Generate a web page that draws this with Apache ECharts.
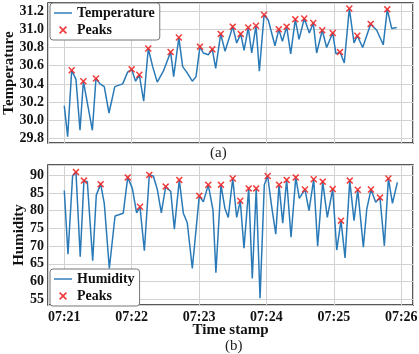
<!DOCTYPE html>
<html>
<head>
<meta charset="utf-8">
<script src="https://cdn.jsdelivr.net/npm/echarts@6/dist/echarts.min.js"></script>
</head>
<body style="margin:0; background:#fff">
<div id="main" style="width:419px;height:354px"></div>
<script>
// seconds after 07:21:00
var tempTime = [0, 3, 6.6, 10.4, 14, 17, 25, 28.2, 31.8, 35.6, 39.8, 45, 52, 56.4, 60, 63.5, 66.8, 70.7, 74.8, 78.7,
  82.8, 88.2, 94.7, 97.4, 102, 105.4, 109, 114, 117.3, 120.8, 123.8, 128.2, 131.8, 134.8, 139.3, 143.1, 150, 153.5,
  157.1, 160.1, 163.8, 166.9, 170.7, 173.7, 177.9, 181.7, 187.6, 191, 194.2, 198, 201.6, 205.7, 209, 213.7, 218.2,
  221.7, 224.7, 229.7, 233.6, 239, 241.9, 245.5, 249.3, 253.8, 258, 260.9, 265.7, 272.8, 278.2, 284, 287.6, 291.5, 296];
var tempVals = [30.16, 29.82, 30.55, 30.45, 29.89, 30.43, 29.89, 30.46, 30.40, 30.37, 30.08, 30.37, 30.40, 30.53, 30.56,
  30.43, 30.50, 30.21, 30.79, 30.59, 30.42, 30.54, 30.75, 30.48, 30.91, 30.59, 30.53, 30.43, 30.48, 30.81, 30.74, 30.72,
  30.78, 30.57, 30.95, 30.76, 31.03, 30.85, 30.95, 30.77, 31.02, 30.74, 31.04, 30.54, 31.16, 31.10, 30.82, 31.00, 30.87,
  31.03, 30.73, 31.11, 30.89, 31.12, 30.96, 31.07, 30.74, 30.99, 30.80, 30.96, 30.73, 30.75, 30.63, 31.23, 30.85, 30.93,
  30.80, 31.06, 30.99, 30.83, 31.22, 31.01, 31.02];

var humTime = [0, 3.3, 7.4, 10.4, 14.2, 17.5, 20.5, 25.3, 28.5, 32.4, 35.6, 40.1, 45.2, 52.5, 56.5, 60.6, 64.4, 67.4,
  71.3, 75.7, 79.3, 82.9, 86.4, 90.3, 94.8, 98, 102.4, 106, 109.5, 114, 120.2, 123.8, 128.2, 132.4, 135, 139.5, 143, 146,
  150, 153.5, 156.7, 160, 164.2, 167.4, 170.9, 174.3, 178.1, 181.1, 184.7, 188.3, 191.2, 194.5, 198, 201.9, 206.1, 209.3,
  214.3, 217.9, 222.1, 225.6, 230.1, 234.2, 239, 242.6, 246.4, 250, 254.2, 258, 261.3, 266.3, 269.3, 273.1, 277.3, 281.1,
  285, 288.6, 292.2, 296.6];
var humVals = [85.7, 67.7, 89.8, 90.9, 67.0, 88.5, 88.2, 65.9, 84.4, 87.5, 82.1, 63.7, 78.5, 79.3, 89.4, 86.3, 79.4, 81.1,
  68.7, 90.1, 89.8, 85.9, 79.4, 86.8, 85.4, 74.8, 88.7, 79.3, 76.6, 63.7, 84.2, 82.5, 87.3, 80.2, 62.5, 87.3, 80.7, 78.1,
  89.1, 78.1, 82.8, 69.4, 86.3, 60.9, 86.3, 55.3, 87.3, 89.8, 81.1, 73.4, 87.3, 76.5, 88.7, 72.5, 89.4, 83.5, 86.0, 80.0,
  88.9, 70.0, 88.2, 78.1, 86.1, 68.9, 77.2, 66.7, 88.5, 77.2, 85.9, 69.7, 80.4, 86.0, 82.4, 83.7, 70.1, 89.1, 82.1, 88.0];

var T0 = Date.UTC(2023, 0, 1, 7, 21, 0);
var FONT = '"Liberation Serif", "DejaVu Serif", serif';
var BLUE = '#2a7ab8';
var RED = '#f02828';
var XMARK = 'path://M0,1.5L1.5,0L5,3.5L8.5,0L10,1.5L6.5,5L10,8.5L8.5,10L5,6.5L1.5,10L0,8.5L3.5,5Z';
var LINEICON = 'path://M0,0H20V1.6H0Z';

function pairs(ts, vs) {
  return ts.map(function (t, i) { return [T0 + t * 1000, vs[i]]; });
}
// local maxima, like find_peaks
function peaks(ts, vs) {
  var out = [];
  for (var i = 1; i < vs.length - 1; i++) {
    if (vs[i] > vs[i - 1] && vs[i] > vs[i + 1]) out.push([T0 + ts[i] * 1000, vs[i]]);
  }
  return out;
}

var labelStyle = { fontFamily: FONT, fontSize: 14, fontWeight: 'bold', color: '#111' };
var nameStyle = { fontFamily: FONT, fontSize: 15, fontWeight: 'bold', color: '#111' };
var gridLine = { show: true, lineStyle: { color: '#d2d2d2', width: 1 } };

function xAxis(idx, showLabel) {
  var ax = {
    gridIndex: idx, type: 'time', min: T0 - 14500, max: T0 + 310500, splitNumber: 5,
    axisLine: { show: false },
    axisTick: { show: false },
    minorTick: { show: false },
    axisLabel: Object.assign({
      show: showLabel, margin: 5, formatter: '{HH}:{mm}',
      showMinLabel: false, showMaxLabel: false, hideOverlap: false
    }, labelStyle),
    splitLine: gridLine
  };
  if (showLabel) {
    ax.name = 'Time stamp';
    ax.nameLocation = 'middle';
    ax.nameGap = 18;
    ax.nameMoveOverlap = false;
    ax.nameTextStyle = nameStyle;
  }
  return ax;
}

function yAxis(idx, name, min, max, split, gap, fmt) {
  return {
    gridIndex: idx, type: 'value', min: min, max: max, splitNumber: split,
    axisLine: { show: false },
    axisTick: { show: false },
    axisLabel: Object.assign({ margin: 4, formatter: fmt, showMinLabel: false, showMaxLabel: false }, labelStyle),
    splitLine: gridLine,
    name: name, nameLocation: 'middle', nameGap: gap, nameMoveOverlap: false,
    nameTextStyle: nameStyle
  };
}

function legend(top, first) {
  return {
    data: [{ name: first, icon: LINEICON }, { name: 'Peaks', icon: XMARK }],
    orient: 'vertical', left: 50, top: top,
    itemWidth: 18, itemHeight: 8, itemGap: 3, padding: [3, 5, 3, 4],
    backgroundColor: '#fff', borderColor: '#777', borderWidth: 1, borderRadius: 3,
    textStyle: { fontFamily: FONT, fontSize: 14, fontWeight: 'bold', color: '#111' }
  };
}

function grid(top) {
  return {
    left: 48, right: 6, top: top, height: 140, outerBoundsMode: 'none', containLabel: false,
    show: true, backgroundColor: 'transparent', borderColor: '#222', borderWidth: 1.5
  };
}

var chart = echarts.init(document.getElementById('main'), null, { renderer: 'canvas', useUTC: true });
chart.setOption({
  animation: false,
  useUTC: true,
  backgroundColor: '#fff',
  grid: [grid(3), grid(165)],
  xAxis: [xAxis(0, false), xAxis(1, true)],
  yAxis: [
    yAxis(0, 'Temperature', 29.75, 31.29, 7, 31, function (v) { return v.toFixed(1); }),
    yAxis(1, 'Humidity', 53.4, 92.9, 8, 21, function (v) { return String(v); })
  ],
  legend: [legend(3, 'Temperature'), legend(269, 'Humidity')],
  graphic: [
    { type: 'text', left: 210, top: 146, style: { text: '(a)', font: '15px ' + FONT, fill: '#222' } },
    { type: 'text', left: 225, top: 339, style: { text: '(b)', font: '15px ' + FONT, fill: '#222' } }
  ],
  series: [
    { name: 'Temperature', type: 'line', xAxisIndex: 0, yAxisIndex: 0, data: pairs(tempTime, tempVals),
      symbol: 'none', lineStyle: { color: BLUE, width: 1.5 }, itemStyle: { color: BLUE } },
    { name: 'Peaks', type: 'scatter', xAxisIndex: 0, yAxisIndex: 0, data: peaks(tempTime, tempVals),
      symbol: XMARK, symbolSize: 7, itemStyle: { color: RED, opacity: 0.9 }, z: 3 },
    { name: 'Humidity', type: 'line', xAxisIndex: 1, yAxisIndex: 1, data: pairs(humTime, humVals),
      symbol: 'none', lineStyle: { color: BLUE, width: 1.5 }, itemStyle: { color: BLUE } },
    { name: 'Peaks', type: 'scatter', xAxisIndex: 1, yAxisIndex: 1, data: peaks(humTime, humVals),
      symbol: XMARK, symbolSize: 7, itemStyle: { color: RED, opacity: 0.9 }, z: 3 }
  ]
});
</script>
</body>
</html>
